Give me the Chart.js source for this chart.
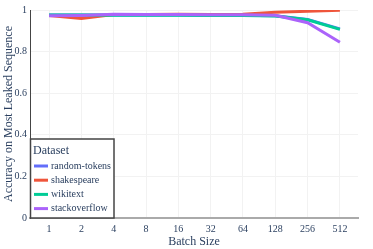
<!DOCTYPE html>
<html>
<head>
<meta charset="utf-8">
<script src="https://cdn.jsdelivr.net/npm/chart.js@4"></script>
<style>
  html, body { margin: 0; padding: 0; background: #fff; }
  #chart { display: block; }
</style>
</head>
<body>
<canvas id="chart" width="373" height="249"></canvas>
<script>
// values
const batchSizes = ['1', '2', '4', '8', '16', '32', '64', '128', '256', '512'];
const randomTokens = [0.976, 0.976, 0.976, 0.976, 0.976, 0.975, 0.975, 0.972, 0.955, 0.909];
const shakespeare = [0.974, 0.959, 0.978, 0.978, 0.979, 0.978, 0.979, 0.989, 0.994, 0.999];
const wikitext = [0.976, 0.976, 0.975, 0.975, 0.975, 0.974, 0.974, 0.971, 0.953, 0.907];
const stackoverflow = [0.972, 0.974, 0.979, 0.978, 0.978, 0.977, 0.977, 0.975, 0.939, 0.845];
const yTicks = [0, 0.2, 0.4, 0.6, 0.8, 1];

const FONT = '"Liberation Serif", "DejaVu Serif", serif';
const TEXT = '#2a3f5f';

// categories are placed by index on a linear axis so the side margins match
const mkLine = (label, vals, color, order) => ({
    label, order,
    data: vals.map((v, i) => ({ x: i, y: v })),
    borderColor: color,
    backgroundColor: color,
    borderWidth: 3,
    pointRadius: 0,
    tension: 0,
    fill: false
});

// legend box drawn inside the plot, bottom-left
const boxLegend = {
    id: 'boxLegend',
    afterDraw(chart) {
        const ctx = chart.ctx;
        const a = chart.chartArea;
        const x0 = a.left + 0.5, y1 = a.bottom, y0 = 139, x1 = 114;
        ctx.save();
        ctx.fillStyle = '#fff';
        ctx.fillRect(x0, y0, x1 - x0, y1 - y0);
        ctx.strokeStyle = '#444';
        ctx.lineWidth = 1.5;
        ctx.strokeRect(x0, y0, x1 - x0, y1 - y0);
        ctx.fillStyle = TEXT;
        ctx.textBaseline = 'middle';
        ctx.font = '12px ' + FONT;
        ctx.fillText('Dataset', 33, 151);
        ctx.font = '10px ' + FONT;
        chart.data.datasets.forEach((ds, i) => {
            const y = 166 + i * 14.2;
            ctx.strokeStyle = ds.borderColor;
            ctx.lineWidth = 3;
            ctx.beginPath();
            ctx.moveTo(34, y);
            ctx.lineTo(48, y);
            ctx.stroke();
            ctx.fillStyle = TEXT;
            ctx.fillText(ds.label, 51, y);
        });
        ctx.restore();
    }
};

new Chart(document.getElementById('chart').getContext('2d'), {
    type: 'line',
    data: {
        datasets: [
            mkLine('random-tokens', randomTokens, '#636efa', 4),
            mkLine('shakespeare', shakespeare, '#ef553b', 3),
            mkLine('wikitext', wikitext, '#00cc96', 2),
            mkLine('stackoverflow', stackoverflow, '#ab63fa', 1)
        ]
    },
    options: {
        responsive: false,
        animation: false,
        devicePixelRatio: 1,
        layout: { padding: { top: 10, right: 15 } },
        plugins: {
            legend: { display: false },
            tooltip: { enabled: false }
        },
        scales: {
            x: {
                type: 'linear',
                min: -0.59,
                max: 9.56,
                afterBuildTicks: s => { s.ticks = batchSizes.map((b, i) => ({ value: i })); },
                grid: { color: '#f2f2f2', drawTicks: false },
                border: { color: '#aaa', width: 2 },
                ticks: {
                    color: TEXT, font: { family: FONT, size: 10 }, padding: 5, maxRotation: 0, autoSkip: false,
                    callback: v => batchSizes[v]
                },
                title: { display: true, text: 'Batch Size', color: TEXT, font: { family: FONT, size: 12 }, padding: { top: 0, bottom: 0 } },
                afterFit: s => { s.height = 31; }
            },
            y: {
                min: 0,
                max: 1,
                afterBuildTicks: s => { s.ticks = yTicks.map(v => ({ value: v })); },
                grid: { color: '#f2f2f2', drawTicks: false },
                border: { color: '#444', width: 1 },
                ticks: { color: TEXT, font: { family: FONT, size: 10 }, padding: 3, callback: v => String(v) },
                title: { display: true, text: 'Accuracy on Most Leaked Sequence', color: TEXT, font: { family: FONT, size: 12 }, padding: { top: 2, bottom: 0 } },
                afterFit: s => { s.width = 30; }
            }
        }
    },
    plugins: [boxLegend]
});
</script>
</body>
</html>
